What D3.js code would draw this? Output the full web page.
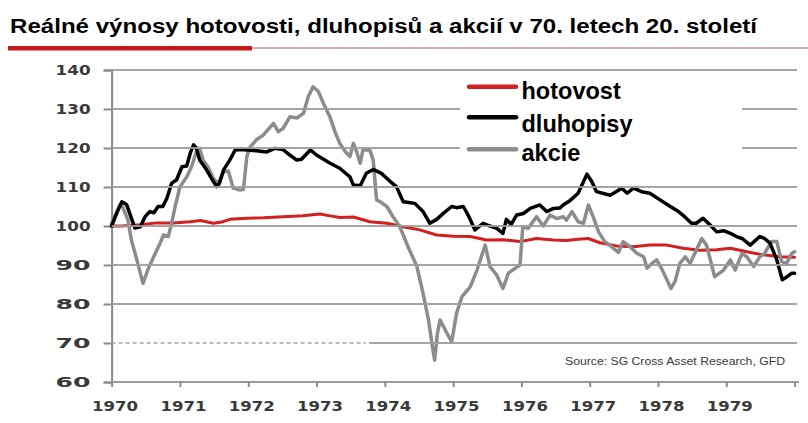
<!DOCTYPE html>
<html><head><meta charset="utf-8">
<script src="https://cdn.jsdelivr.net/npm/d3@7"></script>
<style>html,body{margin:0;padding:0;background:#fff;}svg{display:block;}</style>
</head><body>
<svg id="c" width="808" height="423"></svg>
<script>
const title = "Reálné výnosy hotovosti, dluhopisů a akcií v 70. letech 20. století";
const seriesNames = ["hotovost", "dluhopisy", "akcie"];
const yTicks = [60, 70, 80, 90, 100, 110, 120, 130, 140];
const gridValues = [80, 90, 100, 110, 120, 130, 140];
const xTickYears = [1970,1971,1972,1973,1974,1975,1976,1977,1978,1979,1980];
const xLabels = ["1970","1971","1972","1973","1974","1975","1976","1977","1978","1979"];
const sourceText = "Source: SG Cross Asset Research, GFD";

const hotovost = [[1970.00,100.0],[1970.15,100.0],[1970.41,100.3],[1970.66,100.8],[1970.90,100.8],[1971.15,101.1],[1971.30,101.4],[1971.49,100.7],[1971.61,101.0],[1971.73,101.7],[1971.98,102.0],[1972.22,102.1],[1972.51,102.4],[1972.80,102.6],[1973.05,103.1],[1973.20,102.6],[1973.34,102.2],[1973.54,102.3],[1973.78,101.1],[1974.03,100.7],[1974.27,99.8],[1974.51,99.0],[1974.76,97.7],[1975.00,97.4],[1975.25,97.3],[1975.49,96.4],[1975.73,96.5],[1975.98,96.0],[1976.22,96.8],[1976.47,96.4],[1976.66,96.3],[1976.83,96.6],[1976.98,96.8],[1977.15,95.7],[1977.39,94.9],[1977.64,94.7],[1977.88,95.1],[1978.13,95.1],[1978.37,94.3],[1978.61,93.8],[1978.86,93.9],[1979.06,94.3],[1979.30,93.4],[1979.54,92.6],[1979.79,92.1],[1980.00,92.0]];

const dluhopisy = [[1970.00,100.0],[1970.08,103.5],[1970.15,106.2],[1970.22,105.5],[1970.34,99.5],[1970.42,99.8],[1970.49,102.4],[1970.56,103.7],[1970.62,103.4],[1970.68,105.0],[1970.75,105.0],[1970.81,107.1],[1970.88,111.0],[1970.95,111.8],[1971.03,115.2],[1971.10,115.4],[1971.15,118.6],[1971.20,120.8],[1971.24,120.0],[1971.29,116.9],[1971.39,114.4],[1971.49,111.4],[1971.54,110.1],[1971.58,111.0],[1971.64,114.4],[1971.73,116.9],[1971.81,119.5],[1971.90,119.6],[1972.12,119.3],[1972.27,119.0],[1972.39,119.9],[1972.51,119.6],[1972.61,118.2],[1972.71,116.9],[1972.78,117.1],[1972.91,119.5],[1973.00,118.2],[1973.20,116.1],[1973.34,114.8],[1973.49,112.6],[1973.54,110.5],[1973.64,110.3],[1973.73,113.5],[1973.83,114.5],[1973.95,113.5],[1974.08,111.4],[1974.17,110.1],[1974.27,106.2],[1974.35,106.0],[1974.44,105.8],[1974.56,103.7],[1974.66,100.7],[1974.76,101.7],[1974.86,103.3],[1974.98,105.0],[1975.05,104.7],[1975.15,105.0],[1975.22,102.8],[1975.32,99.0],[1975.44,100.7],[1975.54,100.0],[1975.64,99.4],[1975.73,98.1],[1975.78,101.7],[1975.85,100.4],[1975.93,102.8],[1976.03,103.2],[1976.13,104.5],[1976.27,105.4],[1976.37,103.7],[1976.47,104.5],[1976.56,104.6],[1976.62,105.5],[1976.71,106.5],[1976.83,108.4],[1976.91,111.4],[1976.96,113.3],[1977.03,111.4],[1977.10,108.8],[1977.30,107.9],[1977.47,109.7],[1977.55,108.4],[1977.64,109.7],[1977.76,108.8],[1977.88,108.4],[1978.03,106.7],[1978.18,105.0],[1978.30,103.7],[1978.39,102.4],[1978.49,100.7],[1978.56,100.7],[1978.66,102.0],[1978.76,100.3],[1978.86,98.5],[1978.96,98.8],[1979.06,98.1],[1979.15,97.3],[1979.23,96.8],[1979.35,95.1],[1979.49,97.3],[1979.56,96.8],[1979.64,95.6],[1979.74,91.3],[1979.82,86.2],[1979.88,86.9],[1979.96,87.9],[1980.00,87.9]];

const akcie = [[1970.00,100.7],[1970.12,105.4],[1970.16,105.0],[1970.24,101.5],[1970.29,96.4],[1970.37,91.3],[1970.46,85.3],[1970.54,89.2],[1970.64,93.0],[1970.71,95.6],[1970.76,97.7],[1970.83,97.3],[1970.88,100.7],[1970.93,105.0],[1971.00,110.0],[1971.10,112.6],[1971.17,115.2],[1971.25,119.5],[1971.29,119.9],[1971.34,116.9],[1971.41,115.2],[1971.49,112.2],[1971.56,110.9],[1971.64,113.9],[1971.71,114.1],[1971.78,109.7],[1971.88,109.2],[1971.93,109.4],[1971.98,117.8],[1972.03,120.3],[1972.12,122.1],[1972.22,123.3],[1972.37,126.3],[1972.44,124.2],[1972.51,125.0],[1972.61,128.0],[1972.71,127.7],[1972.81,128.9],[1972.88,133.2],[1972.95,135.7],[1973.03,134.4],[1973.10,131.5],[1973.20,127.8],[1973.27,124.2],[1973.34,121.2],[1973.42,119.1],[1973.49,117.8],[1973.54,121.2],[1973.59,119.0],[1973.64,116.1],[1973.68,119.5],[1973.78,119.5],[1973.83,116.9],[1973.88,106.7],[1973.95,106.0],[1974.03,105.0],[1974.12,102.4],[1974.22,99.8],[1974.34,94.7],[1974.47,89.6],[1974.56,82.7],[1974.64,75.9],[1974.69,69.9],[1974.73,65.6],[1974.77,72.5],[1974.81,75.9],[1974.91,72.5],[1974.98,70.3],[1975.05,77.6],[1975.13,81.9],[1975.25,84.4],[1975.35,88.7],[1975.47,95.1],[1975.54,89.6],[1975.64,87.4],[1975.73,84.0],[1975.81,87.9],[1975.88,88.8],[1975.98,90.0],[1976.02,99.8],[1976.10,99.4],[1976.22,102.4],[1976.32,100.0],[1976.42,102.8],[1976.52,101.9],[1976.61,102.4],[1976.66,101.5],[1976.74,103.7],[1976.83,101.1],[1976.91,100.7],[1976.98,105.4],[1977.05,102.4],[1977.13,98.5],[1977.22,96.0],[1977.32,94.7],[1977.42,93.2],[1977.49,96.0],[1977.59,94.7],[1977.69,93.0],[1977.79,92.1],[1977.84,89.2],[1977.91,90.4],[1977.98,91.3],[1978.05,89.2],[1978.13,86.2],[1978.19,84.0],[1978.25,85.8],[1978.32,90.4],[1978.40,92.1],[1978.47,90.4],[1978.54,93.0],[1978.64,96.8],[1978.71,95.1],[1978.83,87.0],[1978.96,88.7],[1979.06,91.3],[1979.13,88.7],[1979.23,93.0],[1979.30,92.1],[1979.40,89.6],[1979.49,92.1],[1979.56,93.0],[1979.66,96.0],[1979.74,96.0],[1979.81,90.9],[1979.88,90.4],[1979.96,93.0],[1980.00,93.4]];

const svg = d3.select("#c");
const x = d3.scaleLinear().domain([1970, 1980]).range([111.6, 794.6]);
const y = d3.scaleLinear().domain([60, 140]).range([382, 70]);
const gridColor = "#9c9c9c";
const gridLeft = 111.6;
const gridRight = 797;

// Title
svg.append("text").attr("x", 10).attr("y", 33)
  .attr("font-family", "Liberation Sans, Arial, sans-serif").attr("font-weight", "bold")
  .attr("font-size", 20).attr("fill", "#000")
  .attr("textLength", 747).attr("lengthAdjust", "spacingAndGlyphs").text(title);
svg.append("rect").attr("x", 8).attr("y", 46).attr("width", 244).attr("height", 4.5).attr("fill", "#c81a1a");

// Y axis
const yAxis = d3.axisLeft(y).tickValues(yTicks).tickSize(8).tickPadding(13).tickFormat(d3.format("d"));
const gy = svg.append("g").attr("transform", `translate(${gridLeft},0)`).call(yAxis);
gy.select(".domain").attr("stroke", "#8a8a8a").attr("stroke-width", 2);
gy.selectAll(".tick line").attr("stroke", "#8a8a8a").attr("stroke-width", 2);
gy.selectAll(".tick text").attr("font-family", "DejaVu Sans, sans-serif").attr("font-weight", "bold")
  .attr("font-size", 14.5).attr("fill", "#3a3a3a")
  .attr("textLength", 35).attr("lengthAdjust", "spacingAndGlyphs");

// X axis
const xAxis = d3.axisBottom(x).tickValues(xTickYears).tickSize(5).tickPadding(14)
  .tickFormat((d, i) => xLabels[i] || "");
const gx = svg.append("g").attr("transform", `translate(0,${y(60)})`).call(xAxis);
gx.select(".domain").attr("stroke", "#9a9a9a").attr("stroke-width", 2).attr("d", `M${gridLeft},0H${gridRight+2}`);
gx.selectAll(".tick line").attr("stroke", "#8a8a8a").attr("stroke-width", 2);
gx.selectAll(".tick text").attr("font-family", "DejaVu Sans, sans-serif").attr("font-weight", "bold")
  .attr("font-size", 14.5).attr("fill", "#3a3a3a").attr("dx", 3)
  .attr("textLength", 46).attr("lengthAdjust", "spacingAndGlyphs");

// Lines
const lineGen = d3.line().x(d => x(d[0])).y(d => y(d[1]));
const styles = {hotovost: {c: "#d21f1f", w: 3}, dluhopisy: {c: "#000000", w: 3.5}, akcie: {c: "#8c8c8c", w: 3.5}};
[["hotovost", hotovost], ["akcie", akcie], ["dluhopisy", dluhopisy]].forEach(([n, data]) => {
  svg.append("path").datum(data).attr("d", lineGen).attr("fill", "none")
    .attr("stroke", styles[n].c).attr("stroke-width", styles[n].w)
    .attr("stroke-linejoin", "round").attr("stroke-linecap", "round");
});

// Legend (no background box; gridlines below simply skip the legend area)
const legY = [86.7, 117.3, 149.3];
const legBase = [99.3, 131.5, 161];
seriesNames.forEach((n, i) => {
  svg.append("line").attr("x1", 469).attr("x2", 516).attr("y1", legY[i]).attr("y2", legY[i])
    .attr("stroke", styles[n].c).attr("stroke-width", 4.5).attr("stroke-linecap", "round");
  svg.append("text").attr("x", 521.5).attr("y", legBase[i])
    .attr("font-family", "Liberation Sans, Arial, sans-serif").attr("font-weight", "bold")
    .attr("font-size", 23.5).attr("fill", "#000").text(n);
});

// Source
svg.append("text").attr("x", 565).attr("y", 365)
  .attr("font-family", "Liberation Sans, Arial, sans-serif").attr("font-size", 10.5)
  .attr("fill", "#3a3a3a").attr("textLength", 220).attr("lengthAdjust", "spacingAndGlyphs").text(sourceText);

// Gridlines drawn last as thin filled rects; 120/130 skip the legend area
const gridSegs = [];
gridValues.forEach(v => {
  if (v === 120 || v === 130) {
    gridSegs.push({v, x1: gridLeft, x2: 460});
    gridSegs.push({v, x1: 742, x2: gridRight});
  } else {
    gridSegs.push({v, x1: gridLeft, x2: gridRight});
  }
});
gridSegs.push({v: 70, x1: 369, x2: gridRight});
const gGrid = svg.append("g").attr("opacity", 0.9);
gGrid.selectAll("rect").data(gridSegs).join("rect")
  .attr("x", d => d.x1).attr("width", d => d.x2 - d.x1)
  .attr("y", d => y(d.v) - 1).attr("height", 2)
  .attr("fill", gridColor);
gGrid.append("line").attr("x1", gridLeft).attr("x2", 366).attr("y1", y(70)).attr("y2", y(70))
  .attr("stroke", gridColor).attr("stroke-width", 1.5).attr("stroke-dasharray", "4,3");
gGrid.append("rect").attr("x", 252).attr("y", 47.4).attr("width", 556).attr("height", 1.2).attr("fill", "#b07070");
</script>
</body></html>
